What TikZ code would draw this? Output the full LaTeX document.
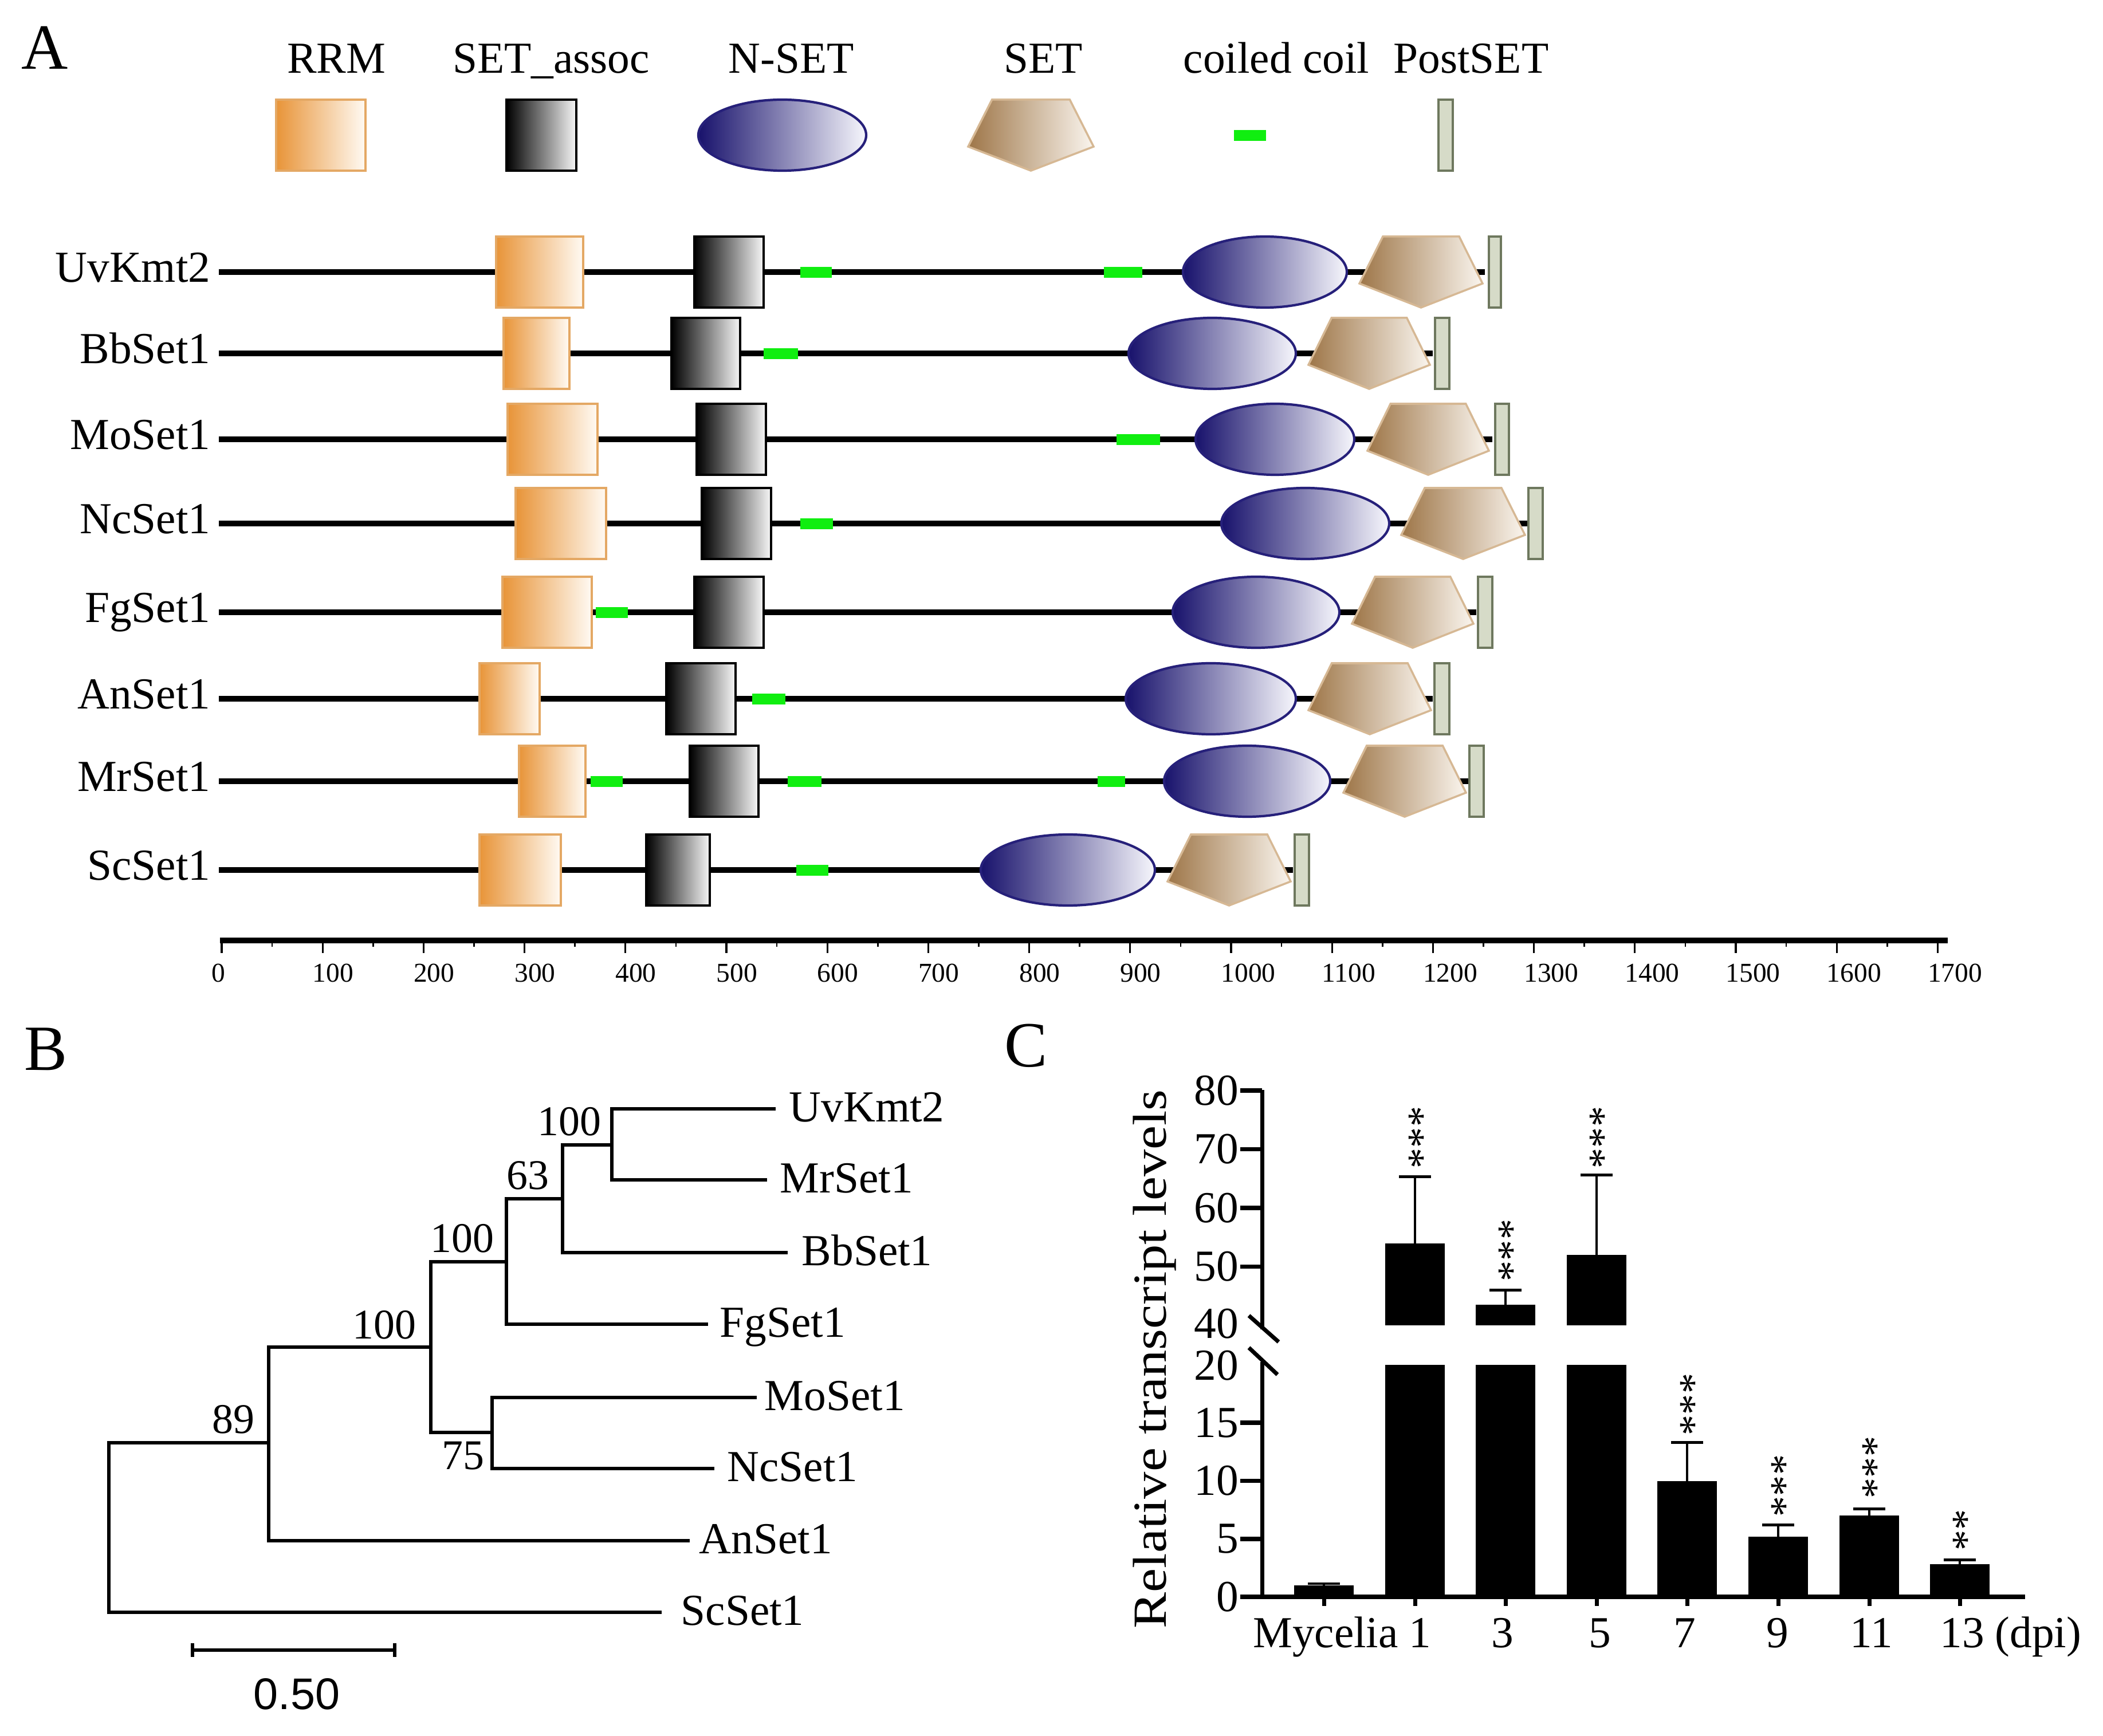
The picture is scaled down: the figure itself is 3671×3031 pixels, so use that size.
\documentclass[tikz,border=0pt]{standalone}
\usepackage{fontspec}
\usepackage{graphicx}
\setmainfont{Liberation Serif}
\newfontfamily\sansfam{Liberation Sans}
\definecolor{rrmL}{RGB}{232,148,56}
\definecolor{rrmR}{RGB}{255,250,243}
\definecolor{rrmB}{RGB}{228,168,100}
\definecolor{saR}{RGB}{246,246,246}
\definecolor{nsL}{RGB}{24,18,108}
\definecolor{nsR}{RGB}{246,246,252}
\definecolor{nsB}{RGB}{38,32,122}
\definecolor{stL}{RGB}{158,118,72}
\definecolor{stR}{RGB}{250,245,238}
\definecolor{stB}{RGB}{214,184,148}
\definecolor{psF}{RGB}{214,219,200}
\definecolor{psB}{RGB}{110,120,94}
\definecolor{ccG}{RGB}{16,238,16}
\tikzset{
  rrmsty/.style={draw=rrmB, line width=1pt, left color=rrmL, right color=rrmR},
  sasty/.style={draw=black, line width=1.1pt, left color=black, right color=saR},
  nssty/.style={draw=nsB, line width=1.2pt, left color=nsL, right color=nsR},
  setsty/.style={draw=stB, line width=1pt, left color=stL, right color=stR},
  pssty/.style={draw=psB, line width=1.2pt, fill=psF},
  ccsty/.style={fill=ccG, draw=none},
  protline/.style={line width=2.9pt, black},
  treeline/.style={line width=1.5pt, black},
  lab/.style={font=\fontsize{22}{26}\selectfont, inner sep=0pt},
  bslab/.style={font=\fontsize{21}{25}\selectfont, inner sep=0pt},
  panellab/.style={font=\fontsize{32}{38}\selectfont, inner sep=0pt},
  scalelab/.style={font=\fontsize{13.5}{16}\selectfont, inner sep=0pt},
  starsty/.style={font=\fontsize{20.5}{24}\selectfont, inner sep=0pt, rotate=90},
  axisline/.style={line width=2pt, black},
  errline/.style={line width=1.4pt, black},
  barsty/.style={fill=black, draw=none},
}
\newcommand\dRRM[3]{\path[rrmsty] (#2,{#1-62}) rectangle (#3,{#1+62});}
\newcommand\dSA[3]{\path[sasty] (#2,{#1-62}) rectangle (#3,{#1+62});}
\newcommand\dCC[3]{\path[ccsty] (#2,{#1-9}) rectangle (#3,{#1+10});}
\newcommand\dNS[3]{\path[nssty] ({(#2+#3)/2},#1) ellipse [x radius={(#3-#2)/2}, y radius=62];}
\newcommand\dSET[3]{\path[setsty] ({#2+0.19*(#3-#2)},{#1-62}) -- ({#2+0.81*(#3-#2)},{#1-62}) -- (#3,{#1+20}) -- ({(#2+#3)/2},{#1+62}) -- (#2,{#1+20}) -- cycle;}
\newcommand\dPS[3]{\path[pssty] (#2,{#1-62}) rectangle (#3,{#1+62});}
\begin{document}
\begin{tikzpicture}[x=0.01cm,y=-0.01cm]
\useasboundingbox (0,0) rectangle (3671,3031);
% ================= Panel A =================
\node[panellab] (labA) at (78,83) {A};
% legend
\node[lab, anchor=base] (lgRRM) at (587,128) {RRM};
\node[lab, anchor=base] (lgSA) at (962,128) {SET\_assoc};
\node[lab, anchor=base] (lgNS) at (1381,128) {N-SET};
\node[lab, anchor=base] (lgSET) at (1821,128) {SET};
\node[lab, anchor=base] (lgCC) at (2228,128) {coiled coil};
\node[lab, anchor=base] (lgPS) at (2568,128) {PostSET};
\dRRM{236}{482}{638}
\dSA{236}{884}{1006}
\dNS{236}{1219}{1512}
\dSET{236}{1690}{1909}
\dCC{236}{2154}{2210}
\dPS{236}{2511}{2536}
% rows
\node[lab, anchor=base east] (rUv) at (368,493) {UvKmt2};
\draw[protline] (382,475) -- (2592,475);
\dRRM{475}{866}{1018} \dSA{475}{1212}{1333} \dCC{475}{1397}{1452} \dCC{475}{1927}{1994}
\dNS{475}{2065}{2351} \dSET{475}{2373}{2588} \dPS{475}{2599}{2620}

\node[lab, anchor=base east] (rBb) at (368,635) {BbSet1};
\draw[protline] (382,617) -- (2501,617);
\dRRM{617}{879}{994} \dSA{617}{1172}{1292} \dCC{617}{1333}{1393}
\dNS{617}{1970}{2262} \dSET{617}{2284}{2496} \dPS{617}{2505}{2530}

\node[lab, anchor=base east] (rMo) at (368,785) {MoSet1};
\draw[protline] (382,767) -- (2605,767);
\dRRM{767}{886}{1043} \dSA{767}{1216}{1337} \dCC{767}{1949}{2025}
\dNS{767}{2087}{2364} \dSET{767}{2387}{2599} \dPS{767}{2610}{2634}

\node[lab, anchor=base east] (rNc) at (368,932) {NcSet1};
\draw[protline] (382,914) -- (2666,914);
\dRRM{914}{900}{1058} \dSA{914}{1225}{1346} \dCC{914}{1397}{1454}
\dNS{914}{2132}{2425} \dSET{914}{2446}{2662} \dPS{914}{2668}{2693}

\node[lab, anchor=base east] (rFg) at (368,1087) {FgSet1};
\draw[protline] (382,1069) -- (2577,1069);
\dRRM{1069}{877}{1033} \dCC{1069}{1040}{1096} \dSA{1069}{1212}{1333}
\dNS{1069}{2047}{2338} \dSET{1069}{2360}{2572} \dPS{1069}{2580}{2605}

\node[lab, anchor=base east] (rAn) at (368,1238) {AnSet1};
\draw[protline] (382,1220) -- (2501,1220);
\dRRM{1220}{837}{942} \dSA{1220}{1163}{1284} \dCC{1220}{1313}{1371}
\dNS{1220}{1965}{2262} \dSET{1220}{2284}{2498} \dPS{1220}{2504}{2530}

\node[lab, anchor=base east] (rMr) at (368,1382) {MrSet1};
\draw[protline] (382,1364) -- (2563,1364);
\dRRM{1364}{906}{1022} \dCC{1364}{1031}{1087} \dSA{1364}{1204}{1324} \dCC{1364}{1375}{1434}
\dCC{1364}{1916}{1964} \dNS{1364}{2032}{2322} \dSET{1364}{2345}{2559} \dPS{1364}{2565}{2590}

\node[lab, anchor=base east] (rSc) at (368,1537) {ScSet1};
\draw[protline] (382,1519) -- (2257,1519);
\dRRM{1519}{837}{979} \dSA{1519}{1128}{1239} \dCC{1519}{1390}{1446}
\dNS{1519}{1712}{2016} \dSET{1519}{2038}{2253} \dPS{1519}{2260}{2285}

% scale axis
\draw[line width=2.8pt, black] (384,1642) -- (3400,1642);
\foreach \k in {0,...,17}{
  \draw[line width=0.9pt] ({387+\k*176.2},1642) -- ({387+\k*176.2},1664);
  \pgfmathtruncatemacro{\lbl}{\k*100}
  \node[scalelab, anchor=west] (sc\k) at ({387+\k*176.2-18},1699) {\lbl};
}
\foreach \k in {0,...,16}{
  \draw[line width=0.7pt] ({387+\k*176.2+88.1},1642) -- ({387+\k*176.2+88.1},1653);
}
% ================= Panel B =================
\node[panellab] (labB) at (80,1832) {B};
\coordinate (r) at (190,2667);
\coordinate (n89) at (469,2519);
\coordinate (n100a) at (752,2352);
\coordinate (n100b) at (884,2203);
\coordinate (n63) at (982,2093);
\coordinate (n100c) at (1068,1999);
\coordinate (n75) at (859,2501);
\coordinate (tUv) at (1354,1936);
\coordinate (tMr) at (1339,2060);
\coordinate (tBb) at (1375,2187);
\coordinate (tFg) at (1236,2312);
\coordinate (tMo) at (1321,2440);
\coordinate (tNc) at (1247,2564);
\coordinate (tAn) at (1204,2690);
\coordinate (tSc) at (1155,2815);
\draw[treeline] (r) |- (n89);
\draw[treeline] (r) |- (tSc);
\draw[treeline] (n89) |- (n100a);
\draw[treeline] (n89) |- (tAn);
\draw[treeline] (n100a) |- (n100b);
\draw[treeline] (n100a) |- (n75);
\draw[treeline] (n100b) |- (n63);
\draw[treeline] (n100b) |- (tFg);
\draw[treeline] (n63) |- (n100c);
\draw[treeline] (n63) |- (tBb);
\draw[treeline] (n100c) |- (tUv);
\draw[treeline] (n100c) |- (tMr);
\draw[treeline] (n75) |- (tMo);
\draw[treeline] (n75) |- (tNc);
\node[lab, anchor=base west] (lUv) at (1377,1958) {UvKmt2};
\node[lab, anchor=base west] (lMr) at (1361,2082) {MrSet1};
\node[lab, anchor=base west] (lBb) at (1399,2209) {BbSet1};
\node[lab, anchor=base west] (lFg) at (1256,2334) {FgSet1};
\node[lab, anchor=base west] (lMo) at (1334,2462) {MoSet1};
\node[lab, anchor=base west] (lNc) at (1269,2586) {NcSet1};
\node[lab, anchor=base west] (lAn) at (1220,2712) {AnSet1};
\node[lab, anchor=base west] (lSc) at (1188,2837) {ScSet1};
\node[bslab] (b1) at (994,1958) {100};
\node[bslab] (b2) at (921,2052) {63};
\node[bslab] (b3) at (807,2162) {100};
\node[bslab] (b4) at (671,2313) {100};
\node[bslab] (b5) at (407,2478) {89};
\node[bslab] (b6) at (808,2542) {75};
\coordinate (sbL) at (336,2881);
\coordinate (sbR) at (689,2881);
\draw[treeline] (sbL) -- (sbR);
\draw[treeline] ([yshift=0.12cm]sbL) -- ([yshift=-0.12cm]sbL);
\draw[treeline] ([yshift=0.12cm]sbR) -- ([yshift=-0.12cm]sbR);
\node[font=\sansfam\fontsize{22}{26}\selectfont, inner sep=0pt] (sbT) at (518,2958) {0.50};
% ================= Panel C =================
\node[panellab] (labC) at (1791,1826) {C};
\node[font=\fontsize{23.6}{28}\selectfont, inner sep=0pt, rotate=90, anchor=base] (ylab) at (2035,2373) {\scalebox{1.14}[1]{Relative transcript levels}};
% bars
\path[barsty] (2259,2768) rectangle (2363,2788);
\path[barsty] (2418,2170.5) rectangle (2522,2314);
\path[barsty] (2418,2383) rectangle (2522,2788);
\path[barsty] (2576,2278.1) rectangle (2680,2314);
\path[barsty] (2576,2383) rectangle (2680,2788);
\path[barsty] (2735,2191) rectangle (2839,2314);
\path[barsty] (2735,2383) rectangle (2839,2788);
\path[barsty] (2893,2585.5) rectangle (2997,2788);
\path[barsty] (3052,2682.7) rectangle (3156,2788);
\path[barsty] (3211,2646.3) rectangle (3315,2788);
\path[barsty] (3369,2731.3) rectangle (3473,2788);
% error bars
\foreach \cx/\yt/\ye in {2311/2768/2765,2470/2170.5/2054.7,2628/2278.1/2252.5,2787/2191/2051.6,2945/2585.5/2518.7,3104/2682.7/2662.5,3263/2646.3/2634.1,3421/2731.3/2723.2}{
  \draw[errline] (\cx,\yt) -- (\cx,\ye);
  \draw[errline] ({\cx-28},\ye) -- ({\cx+28},\ye);
}
% axes
\draw[axisline] (2203,1903) -- (2203,2321);
\draw[axisline] (2203,2378) -- (2203,2788);
\draw[axisline] (2180,2297) -- (2232,2343);
\draw[axisline] (2180,2353) -- (2230,2400);
\draw[axisline] (2200,2788) -- (3535,2788);
\foreach \v/\yy in {80/1904,70/2006.5,60/2109,50/2211.5,15/2484,10/2585.5,5/2687,0/2788}{
  \draw[axisline] (2165,\yy) -- (2203,\yy);
  \node[lab, anchor=east] (yt\v) at (2163,\yy) {\v};
}
\node[lab, anchor=east] (yt40) at (2163,2311) {40};
\node[lab, anchor=east] (yt20) at (2163,2384) {20};
\foreach \cx in {2311,2470,2628,2787,2945,3104,3263,3421}{
  \draw[axisline] (\cx,2788) -- (\cx,2804);
}
% x labels
\node[lab, anchor=base] (xM) at (2314,2876) {Mycelia};
\node[lab, anchor=base] (x1) at (2479,2876) {1};
\node[lab, anchor=base] (x3) at (2623,2876) {3};
\node[lab, anchor=base] (x5) at (2793,2876) {5};
\node[lab, anchor=base] (x7) at (2941,2876) {7};
\node[lab, anchor=base] (x9) at (3103,2876) {9};
\node[lab, anchor=base] (x11) at (3267,2876) {11};
\node[lab, anchor=base] (x13) at (3425,2876) {13};
\node[lab, anchor=base west] (xdpi) at (3482,2876) {(dpi)};
% significance stars
\node[starsty] (s1) at (2483,1986) {***};
\node[starsty] (s3) at (2640,2183) {***};
\node[starsty] (s5) at (2799,1986) {***};
\node[starsty] (s7) at (2957,2452) {***};
\node[starsty] (s9) at (3116,2594) {***};
\node[starsty] (s11) at (3275,2562) {***};
\node[starsty] (s13) at (3433,2671) {**};
\end{tikzpicture}
\end{document}
